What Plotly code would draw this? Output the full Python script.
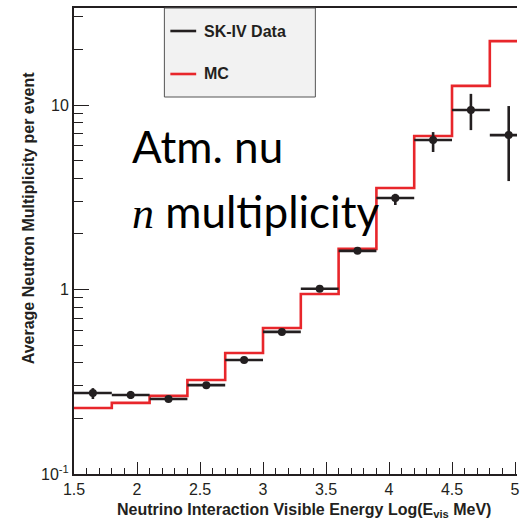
import plotly.graph_objects as go
import math

# ---- data ----
bin_edges = [1.5, 1.8, 2.1, 2.4, 2.7, 3.0, 3.3, 3.6, 3.9, 4.2, 4.5, 4.8, 5.1]
mc_values = [0.228, 0.243, 0.265, 0.323, 0.453, 0.618, 0.946, 1.66, 3.55, 6.79, 12.7, 22.2]
data_x = [1.65, 1.95, 2.25, 2.55, 2.85, 3.15, 3.45, 3.75, 4.05, 4.35, 4.65, 4.95]
data_y = [0.275, 0.268, 0.255, 0.303, 0.415, 0.589, 1.01, 1.62, 3.13, 6.46, 9.39, 6.87]
err_up = [0.017, 0.014, 0.008, 0.008, 0.010, 0.015, 0.03, 0.05, 0.17, 0.67, 2.1, 3.0]
err_dn = [0.020, 0.013, 0.008, 0.008, 0.010, 0.015, 0.03, 0.05, 0.26, 0.90, 2.08, 3.0]
half_bin = [0.15] * 12
x_ticks = [1.5, 2, 2.5, 3, 3.5, 4, 4.5, 5]
x_ticklabels = ["1.5", "2", "2.5", "3", "3.5", "4", "4.5", "5"]
y_ticks = [0.1, 1, 10]
y_ticklabels = ["10<sup>-1</sup>", "1", "10"]
y_minor = [0.2, 0.3, 0.4, 0.5, 0.6, 0.7, 0.8, 0.9, 2, 3, 4, 5, 6, 7, 8, 9, 20, 30]
x_minor = [1.6, 1.7, 1.8, 1.9, 2.1, 2.2, 2.3, 2.4, 2.6, 2.7, 2.8, 2.9, 3.1, 3.2, 3.3, 3.4,
           3.6, 3.7, 3.8, 3.9, 4.1, 4.2, 4.3, 4.4, 4.6, 4.7, 4.8, 4.9]

W, H = 520, 522
L, R, T, B = 74, 0, 8, 48
PW, PH = W - L - R, H - T - B


def px(xp):
    return (xp - L) / PW


def py(yp):
    return (H - B - yp) / PH


INK = "#231f20"
RED = "#e8262b"
FONT = "Liberation Sans"

fig = go.Figure()

fig.add_trace(go.Scatter(
    x=bin_edges, y=mc_values + [mc_values[-1]], mode="lines",
    line=dict(color=RED, width=2.6, shape="hv"), showlegend=False,
))

fig.add_trace(go.Scatter(
    x=data_x, y=data_y, mode="markers",
    marker=dict(color=INK, size=8),
    error_x=dict(type="data", array=half_bin, color=INK, thickness=2.6, width=0),
    error_y=dict(type="data", symmetric=False, array=err_up, arrayminus=err_dn,
                 color=INK, thickness=2.6, width=0),
    showlegend=False,
))

# legend box (drawn)
shapes = [
    dict(type="rect", xref="paper", yref="paper", x0=px(165), x1=px(317), y0=py(97), y1=py(8),
         fillcolor="#f2f2f2", line=dict(color="#555555", width=1), layer="above"),
    dict(type="line", xref="paper", yref="paper", x0=px(171), x1=px(197), y0=py(31), y1=py(31),
         line=dict(color=INK, width=2.6), layer="above"),
    dict(type="line", xref="paper", yref="paper", x0=px(171), x1=px(197), y0=py(74), y1=py(74),
         line=dict(color=RED, width=2.6), layer="above"),
]

annotations = [
    dict(text="<b>SK-IV Data</b>", x=px(203), y=py(31), xref="paper", yref="paper",
         xanchor="left", yanchor="middle", showarrow=False, font=dict(family=FONT, size=16, color=INK)),
    dict(text="<b>MC</b>", x=px(203), y=py(74), xref="paper", yref="paper",
         xanchor="left", yanchor="middle", showarrow=False, font=dict(family=FONT, size=16, color=INK)),
    dict(text="Atm. nu", x=px(130), y=py(146), xref="paper", yref="paper",
         xanchor="left", yanchor="middle", showarrow=False, font=dict(family="Lato", size=44, color="black")),
    dict(text="<span style='font-family:Liberation Serif;font-style:italic'>n</span> multiplicity",
         x=px(130), y=py(212), xref="paper", yref="paper",
         xanchor="left", yanchor="middle", showarrow=False, font=dict(family="Lato", size=44, color="black")),
    dict(text="<b>Average Neutron Multiplicity per event</b>", x=px(28), y=py(218), xref="paper", yref="paper",
         xanchor="center", yanchor="middle", textangle=-90, showarrow=False,
         font=dict(family=FONT, size=16, color=INK)),
    dict(text="<b>Neutrino Interaction Visible Energy Log(E<sub>vis</sub> MeV)</b>", x=px(306), y=py(510),
         xref="paper", yref="paper", xanchor="center", yanchor="middle", showarrow=False,
         font=dict(family=FONT, size=16, color=INK)),
]

fig.update_layout(
    width=W, height=H,
    margin=dict(l=L, r=R, t=T, b=B),
    paper_bgcolor="white", plot_bgcolor="white",
    shapes=shapes, annotations=annotations,
    showlegend=False,
)

fig.update_xaxes(
    range=[1.5, 1.5 + PW / (444 / 3.5)],
    tickvals=x_ticks, ticktext=x_ticklabels,
    ticks="inside", ticklen=12, tickwidth=1.3, tickcolor=INK,
    minor=dict(tickvals=x_minor, ticks="inside", ticklen=6, tickwidth=1.3, tickcolor=INK, showgrid=False),
    showline=True, linecolor=INK, linewidth=2, mirror=True,
    showgrid=False, zeroline=False, ticklabeloverflow="allow",
    tickfont=dict(family=FONT, size=16, color=INK),
)

fig.update_yaxes(
    type="log", range=[-1, 1 + (105 - 8) / 184.5],
    tickvals=y_ticks, ticktext=y_ticklabels,
    ticks="inside", ticklen=15, tickwidth=1.3, tickcolor=INK,
    minor=dict(tickvals=y_minor, ticks="inside", ticklen=9, tickwidth=1.3, tickcolor=INK, showgrid=False),
    showline=True, linecolor=INK, linewidth=2,
    showgrid=False, zeroline=False, ticklabeloverflow="allow",
    tickfont=dict(family=FONT, size=16, color=INK),
)

fig.write_html("out.html")
